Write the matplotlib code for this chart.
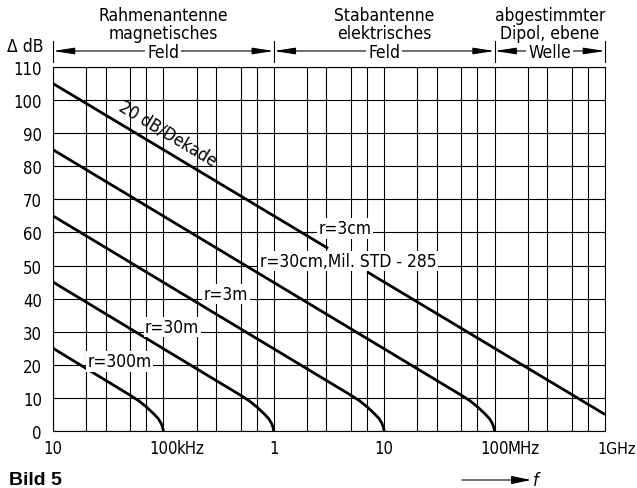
import matplotlib
matplotlib.use("Agg")
import matplotlib.pyplot as plt
import matplotlib.transforms as mtransforms

# narrow lettering like the DIN font of the original
plt.rcParams['font.family'] = ['DejaVu Sans']
plt.rcParams['font.stretch'] = 'condensed'

# data (frequency in Hz, attenuation in dB)
r3cm_f = [10e3, 3.1e6]
r3cm_db = [105, 55.2]

r30cm_f = [10e3, 50e6, 60e6, 70e6, 80e6, 85e6, 90e6, 95e6, 98e6, 100e6]
r30cm_db = [85, 10.8, 9.1, 7.3, 5.5, 4.6, 3.7, 2.4, 1.3, 0]

r3m_f = [10e3, 5e6, 6e6, 7e6, 8e6, 8.5e6, 9e6, 9.5e6, 9.8e6, 10e6]
r3m_db = [65, 10.8, 9.1, 7.3, 5.5, 4.6, 3.7, 2.4, 1.3, 0]

r30m_f = [10e3, 500e3, 600e3, 700e3, 800e3, 850e3, 900e3, 950e3, 980e3, 1e6]
r30m_db = [45, 10.8, 9.1, 7.3, 5.5, 4.6, 3.7, 2.4, 1.3, 0]

r300m_f = [10e3, 50e3, 60e3, 70e3, 80e3, 85e3, 90e3, 95e3, 98e3, 100e3]
r300m_db = [25, 10.8, 9.1, 7.3, 5.5, 4.6, 3.7, 2.4, 1.3, 0]

mil_f = [7e6, 1e9]
mil_db = [48.1, 5]

x_ticks = [10e3, 100e3, 1e6, 10e6, 100e6, 1e9]
x_numbers = ['10', '100', '1', '10', '100', '']
x_units = {1: 'kHz', 4: 'MHz'}
last_label = '1GHz'
y_ticks = list(range(0, 111, 10))

# grid at 1, 2, 3, 5, 7 of every decade
grid_steps = [1, 2, 3, 5, 7]
decades = [10e3, 100e3, 1e6, 10e6, 100e6]

curve_labels = [
    ('r=3cm', 4.4e6, 61.3),
    ('r=30cm,Mil. STD - 285', 4.7e6, 51.4),
    ('r=3m', 369e3, 41.4),
    ('r=30m', 120e3, 31.4),
    ('r=300m', 40e3, 21.1),
]

# band headers: (lines, start, end, centre)
bands = [
    (['Rahmenantenne', 'magnetisches', 'Feld'], 10e3, 1e6, 100e3),
    (['Stabantenne', 'elektrisches', 'Feld'], 1e6, 100e6, 10e6),
    (['abgestimmter', 'Dipol, ebene', 'Welle'], 100e6, 1e9, 316e6),
]

fig = plt.figure(figsize=(6.37, 4.89), dpi=100)
ax = fig.add_axes([53 / 637, 1 - 432 / 489, 552 / 637, 364 / 489])
ax.set_xscale('log')
ax.set_xlim(10e3, 1e9)
ax.set_ylim(0, 110)

for d in decades:
    for s in grid_steps:
        ax.axvline(d * s, color='black', lw=0.8, zorder=1)
for y in y_ticks:
    ax.axhline(y, color='black', lw=0.8, zorder=1)

for f, db in [(r3cm_f, r3cm_db), (r30cm_f, r30cm_db), (r3m_f, r3m_db),
              (r30m_f, r30m_db), (r300m_f, r300m_db), (mil_f, mil_db)]:
    ax.plot(f, db, color='black', lw=2.0, solid_capstyle='butt', zorder=3)

for text, f, db in curve_labels:
    ax.text(f, db, text, fontsize=12.5, ha='center', va='center', zorder=4,
            bbox=dict(facecolor='white', edgecolor='none', pad=1))

ax.text(110e3, 90.2, '20 dB/Dekade', fontsize=12.5, rotation=-31,
        ha='center', va='center', zorder=4)

for sp in ax.spines.values():
    sp.set_linewidth(0.8)
ax.tick_params(length=0, labelsize=12)
ax.tick_params(axis='y', pad=8)
ax.tick_params(axis='x', pad=6)
ax.set_yticks(y_ticks)
ax.set_xticks(x_ticks)
ax.set_xticklabels(x_numbers)
ax.minorticks_off()

# units follow the number, the number stays centred on its tick
fig.canvas.draw()
labels = ax.get_xticklabels()
for i, label in enumerate(labels):
    if i in x_units:
        bb = label.get_window_extent()
        fig.text(bb.x1 - 1, (bb.y0 + bb.y1) / 2, x_units[i], transform=None,
                 ha='left', va='center', fontsize=12)
bb = labels[0].get_window_extent()
fig.text(636, (bb.y0 + bb.y1) / 2, last_label, transform=None,
         ha='right', va='center', fontsize=11.5)

# band headers above the plot
trans = mtransforms.blended_transform_factory(ax.transData, ax.transAxes)
arrow_y = 1.044
for lines, f0, f1, fc in bands:
    ax.annotate('', xy=(f1, arrow_y), xytext=(f0, arrow_y), xycoords=trans,
                annotation_clip=False,
                arrowprops=dict(arrowstyle='<|-|>,head_length=1.3,head_width=0.2',
                                color='black', lw=0.8, shrinkA=0, shrinkB=0))
    for k, line in enumerate(lines):
        ypos = [1.142, 1.093, 1.042][k]
        ax.text(fc, ypos, line, transform=trans, ha='center', va='center',
                fontsize=12.5, zorder=5,
                bbox=dict(facecolor='white', edgecolor='none', pad=1.5) if k == 2 else None)
for f in [10e3, 1e6, 100e6, 1e9]:
    ax.plot([f, f], [1.014, 1.071], transform=trans, color='black', lw=0.8,
            clip_on=False)

fig.text(7 / 637, 1 - 47 / 489, '\u0394 dB', fontsize=12.5, ha='left', va='center')
fig.text(9 / 637, 1 - 481 / 489, 'Bild 5', fontsize=14, fontweight='bold',
         family='Liberation Sans', stretch='normal', ha='left', va='center')

fig.patches.append(matplotlib.patches.FancyArrowPatch(
    (462 / 637, 1 - 481 / 489), (531 / 637, 1 - 481 / 489),
    transform=fig.transFigure, arrowstyle='-|>,head_length=1.2,head_width=0.25',
    color='black', lw=0.8, mutation_scale=10, shrinkA=0, shrinkB=0))
fig.text(533 / 637, 1 - 481 / 489, 'f', fontsize=13, style='italic',
         ha='left', va='center')

fig.savefig('out.png', dpi=100, facecolor='white')
